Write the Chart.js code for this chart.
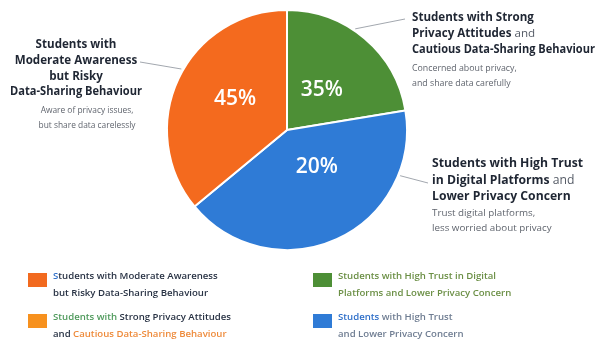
<!DOCTYPE html>
<html>
<head>
<meta charset="utf-8">
<script src="https://cdn.jsdelivr.net/npm/chart.js@4.4.0/dist/chart.umd.min.js"></script>
<style>
  html, body { margin: 0; padding: 0; background: #fff; }
  #wrap { width: 595px; height: 342px; position: relative; }
</style>
</head>
<body>
<div id="wrap"><canvas id="pieChart" width="595" height="342"></canvas></div>
<script>
// 조각 데이터 (위쪽에서 시계 방향)
const categories = [
    'Students with Strong Privacy Attitudes and Cautious Data-Sharing Behaviour',
    'Students with High Trust in Digital Platforms and Lower Privacy Concern',
    'Students with Moderate Awareness but Risky Data-Sharing Behaviour'
];
const shares = [22.4, 41.6, 36];          // 그림에서 읽은 조각 크기
const pctLabels = ['35%', '20%', '45%'];  // 조각 안에 적힌 값
const sliceColors = ['#4d8f36', '#2f7bd6', '#f46a1e'];

// 주석 텍스트 (굵은 부분: true)
const noteTitles = [
    [[['Students with Strong', true]], [['Privacy Attitudes ', true], ['and', false]], [['Cautious Data-Sharing Behaviour', true]]],
    [[['Students with High Trust', true]], [['in Digital Platforms ', true], ['and', false]], [['Lower Privacy Concern', true]]],
    [[['Students with', true]], [['Moderate Awareness', true]], [['but Risky', true]], [['Data-Sharing Behaviour', true]]]
];
const noteSubs = [
    ['Concerned about privacy,', 'and share data carefully'],
    ['Trust digital platforms,', 'less worried about privacy'],
    ['Aware of privacy issues,', 'but share data carelessly']
];

// 범례 텍스트 (표시된 그대로)
const legendColors = ['#f26a1f', '#f7911e', '#4d8f36', '#2f7bd6'];
const legendText = [
    [[['S', 'blue'], ['tudents with Moderate Awareness', 'dark']], [['but Risky Data-Sharing Behaviour', 'dark']]],
    [[['Students with ', 'green'], ['Strong Privacy Attitudes', 'dark']], [['and ', 'dark'], ['Cautious Data-Sharing Behaviour', 'orange']]],
    [[['Students with High Trust in Digital', 'olive']], [['Platforms and Lower Privacy Concern', 'olive']]],
    [[['Students', 'blue'], [' with High Trust', 'gray']], [['and Lower Privacy Concern', 'gray']]]
];

// 레이아웃/스타일
const FONT = '"Open Sans", "Noto Sans", sans-serif';
const textColors = { dark: '#283244', blue: '#2f6fc9', green: '#4f9a5c', orange: '#ee8a3a', olive: '#6b8f45', gray: '#6f7d92' };
const notePlace = [
    { x: 412, y: 18, align: 'left', size: 11.6, gap: 15.8, maxW: 183, subX: 412, subY: 68, subSize: 8.8, angle: 34, lineFrom: [405, 19] },
    { x: 432, y: 164, align: 'left', size: 12.2, gap: 16.5, maxW: 160, subX: 432, subY: 213, subSize: 9.8, angle: 112, lineFrom: [428, 183] },
    { x: 76, y: 45, align: 'center', size: 11.6, gap: 15.7, maxW: 132, subX: 87, subY: 111, subSize: 8.4, angle: 300, lineFrom: [140, 62] }
];
const labelNudge = [[-1, 2], [7, -13], [-2, -7]];
const legendPlace = [[28, 273], [28, 314], [313, 273], [313, 314]];

function drawSegments(ctx, segs, x, y, align, fontFor, colorFor, maxW) {
    let total = 0;
    segs.forEach(s => { ctx.font = fontFor(s); total += ctx.measureText(s[0]).width; });
    const k = maxW && total > maxW ? maxW / total : 1;
    let cx = align === 'center' ? x - total * k / 2 : x;
    ctx.textAlign = 'left';
    segs.forEach(s => {
        ctx.font = fontFor(s);
        ctx.fillStyle = colorFor(s);
        const w = ctx.measureText(s[0]).width * k;
        ctx.fillText(s[0], cx, y, w);
        cx += w;
    });
}

const annotations = {
    id: 'annotations',
    afterDraw(chart) {
        const ctx = chart.ctx;
        const arcs = chart.getDatasetMeta(0).data;
        const cx = arcs[0].x, cy = arcs[0].y, r = arcs[0].outerRadius;
        ctx.save();
        ctx.textBaseline = 'middle';

        // 조각 안 퍼센트
        arcs.forEach((arc, i) => {
            const mid = (arc.startAngle + arc.endAngle) / 2;
            const rr = r * 0.46;
            ctx.font = '600 21px ' + FONT;
            ctx.fillStyle = '#ffffff';
            ctx.textAlign = 'center';
            ctx.fillText(pctLabels[i], cx + Math.cos(mid) * rr + labelNudge[i][0], cy + Math.sin(mid) * rr + labelNudge[i][1]);
        });

        // 주석과 지시선
        notePlace.forEach((p, i) => {
            const a = (p.angle - 90) * Math.PI / 180;
            ctx.strokeStyle = '#8a9099';
            ctx.lineWidth = 0.8;
            ctx.beginPath();
            ctx.moveTo(p.lineFrom[0], p.lineFrom[1]);
            ctx.lineTo(cx + Math.cos(a) * (r + 2), cy + Math.sin(a) * (r + 2));
            ctx.stroke();

            noteTitles[i].forEach((line, j) => {
                drawSegments(ctx, line, p.x, p.y + j * p.gap, p.align,
                    s => (s[1] ? '700 ' : '400 ') + p.size + 'px ' + FONT,
                    s => s[1] ? '#1f2633' : '#555b66', p.maxW);
            });
            noteSubs[i].forEach((line, j) => {
                drawSegments(ctx, [[line]], p.subX, p.subY + j * 15, p.align,
                    () => '400 ' + p.subSize + 'px ' + FONT, () => '#60656e');
            });
        });

        // 범례
        legendText.forEach((lines, i) => {
            const [lx, ly] = legendPlace[i];
            ctx.fillStyle = legendColors[i];
            ctx.fillRect(lx, ly, 19, 14);
            lines.forEach((line, j) => {
                drawSegments(ctx, line, lx + 25, ly + 3 + j * 17, 'left',
                    () => '600 9.6px ' + FONT, s => textColors[s[1]]);
            });
        });
        ctx.restore();
    }
};

const ctx = document.getElementById('pieChart').getContext('2d');
window.pieChart = new Chart(ctx, {
    type: 'pie',
    data: {
        labels: categories,
        datasets: [{
            data: shares,
            backgroundColor: sliceColors,
            borderColor: '#ffffff',
            borderWidth: 2,
        }]
    },
    options: {
        responsive: false,
        devicePixelRatio: 1,
        animation: false,
        layout: { padding: { left: 166, right: 187, top: 8, bottom: 90 } },
        plugins: {
            legend: { display: false },
            tooltip: { enabled: false }
        }
    },
    plugins: [annotations]
});
</script>
</body>
</html>
